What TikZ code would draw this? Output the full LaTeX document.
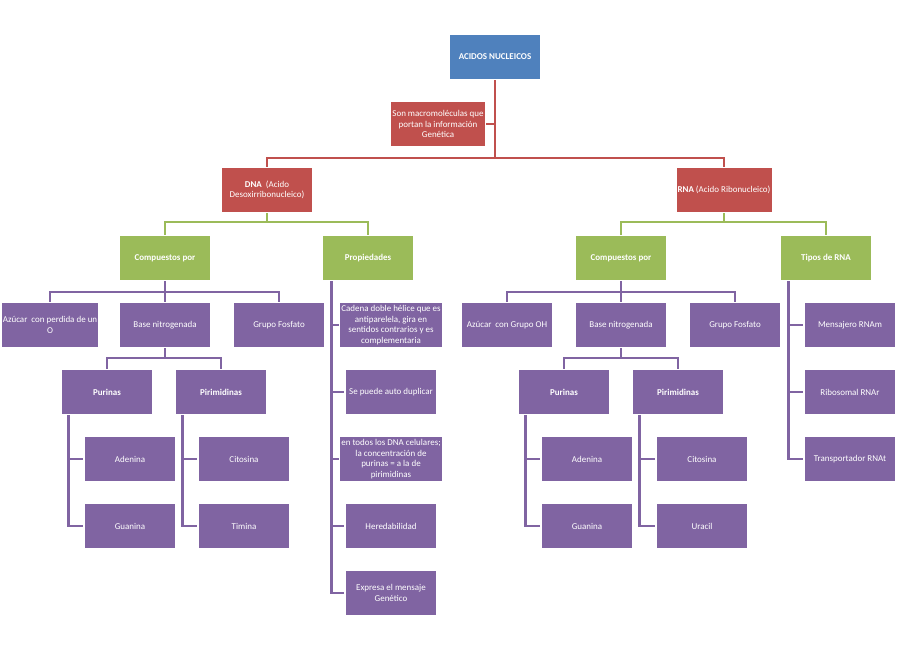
\documentclass[tikz,border=0pt]{standalone}
\usepackage{fontspec}
\setmainfont{Carlito}
\definecolor{blue1}{RGB}{79,129,189}
\definecolor{red1}{RGB}{192,80,77}
\definecolor{green1}{RGB}{155,187,89}
\definecolor{purple1}{RGB}{128,100,162}
\usetikzlibrary{positioning}

\begin{document}
\begin{tikzpicture}[x=0.02cm, y=-0.02cm,
  box/.style={draw=white, line width=0.8pt, text=white, minimum width=1.84cm, minimum height=0.9cm, align=center, inner sep=1pt, font=\fontsize{5.1}{6}\selectfont},
  bluebox/.style={box, fill=blue1, font=\fontsize{5.1}{6}\selectfont\bfseries},
  redbox/.style={box, fill=red1},
  greenbox/.style={box, fill=green1, font=\fontsize{5.1}{6}\selectfont\bfseries},
  purplebox/.style={box, fill=purple1},
  headbox/.style={purplebox, font=\fontsize{5.1}{6}\selectfont\bfseries},
  redline/.style={draw=red1, line width=1.4pt},
  greenline/.style={draw=green1, line width=1.4pt},
  purpleline/.style={draw=purple1, line width=1.4pt}]

  \useasboundingbox[fill=white] (0,0) rectangle (900,660);

  % top level
  \node[bluebox] (acidos) at (495,57) {ACIDOS NUCLEICOS};
  \node[redbox] (macro) at (438,124) {Son macromoléculas que\\portan la información\\Genética};
  \node[redbox] (dna) at (267,190) {\textbf{DNA}~ (Acido\\Desoxirribonucleico)};
  \node[redbox] (rna) at (724,190) {\textbf{RNA} (Acido Ribonucleico)};

  \coordinate (rbar) at (495,158);
  \draw[redline] (acidos.south) -- (rbar);
  \draw[redline] (macro.east) -- (macro.east -| rbar);
  \draw[redline] (dna.north) |- (rbar) -| (rna.north);

  % DNA branch
  \node[greenbox] (dcomp) at (165,258) {Compuestos por};
  \node[greenbox] (dprop) at (368,258) {Propiedades};
  \coordinate (gdna) at (267,222);
  \draw[greenline] (dna.south) -- (gdna);
  \draw[greenline] (dcomp.north) |- (gdna) -| (dprop.north);

  \node[purplebox] (dazu) at (50,325) {Azúcar~ con perdida de un\\O};
  \node[purplebox] (dbase) at (165,325) {Base nitrogenada};
  \node[purplebox] (dfos) at (279,325) {Grupo Fosfato};
  \coordinate (pd1) at (165,292);
  \draw[purpleline] (dcomp.south) -- (dbase.north);
  \draw[purpleline] (dazu.north) |- (pd1) -| (dfos.north);

  \node[headbox] (dpur) at (107,392) {Purinas};
  \node[headbox] (dpir) at (221,392) {Pirimidinas};
  \coordinate (pd2) at (165,358);
  \draw[purpleline] (dbase.south) -- (pd2);
  \draw[purpleline] (dpur.north) |- (pd2) -| (dpir.north);

  \node[purplebox] (dade) at (130,459) {Adenina};
  \node[purplebox] (dgua) at (130,526) {Guanina};
  \node[purplebox] (dcit) at (244,459) {Citosina};
  \node[purplebox] (dtim) at (244,526) {Timina};
  \foreach \n in {dade,dgua}
    \draw[purpleline] (dpur.south west) ++(8,0) |- (\n.west);
  \foreach \n in {dcit,dtim}
    \draw[purpleline] (dpir.south west) ++(8,0) |- (\n.west);

  % propiedades
  \node[purplebox] (p1) at (391,325) {Cadena doble hélice que es\\antiparelela, gira en\\sentidos contrarios y es\\complementaria};
  \node[purplebox] (p2) at (391,392) {Se puede auto duplicar};
  \node[purplebox] (p3) at (391,459) {en todos los DNA celulares;\\la concentración de\\purinas = a la de\\pirimidinas};
  \node[purplebox] (p4) at (391,526) {Heredabilidad};
  \node[purplebox] (p5) at (391,593) {Expresa el mensaje\\Genético};
  \foreach \n in {p1,p2,p3,p4,p5}
    \draw[purpleline] (dprop.south west) ++(10,0) |- (\n.west);

  % RNA branch
  \node[greenbox] (rcomp) at (621,258) {Compuestos por};
  \node[greenbox] (rtipo) at (826,258) {Tipos de RNA};
  \coordinate (grna) at (724,222);
  \draw[greenline] (rna.south) -- (grna);
  \draw[greenline] (rcomp.north) |- (grna) -| (rtipo.north);

  \node[purplebox] (razu) at (507,325) {Azúcar~ con Grupo OH};
  \node[purplebox] (rbase) at (621,325) {Base nitrogenada};
  \node[purplebox] (rfos) at (735,325) {Grupo Fosfato};
  \coordinate (pr1) at (621,292);
  \draw[purpleline] (rcomp.south) -- (rbase.north);
  \draw[purpleline] (razu.north) |- (pr1) -| (rfos.north);

  \node[headbox] (rpur) at (564,392) {Purinas};
  \node[headbox] (rpir) at (678,392) {Pirimidinas};
  \coordinate (pr2) at (621,358);
  \draw[purpleline] (rbase.south) -- (pr2);
  \draw[purpleline] (rpur.north) |- (pr2) -| (rpir.north);

  \node[purplebox] (rade) at (587,459) {Adenina};
  \node[purplebox] (rgua) at (587,526) {Guanina};
  \node[purplebox] (rcit) at (702,459) {Citosina};
  \node[purplebox] (rura) at (702,526) {Uracil};
  \foreach \n in {rade,rgua}
    \draw[purpleline] (rpur.south west) ++(8,0) |- (\n.west);
  \foreach \n in {rcit,rura}
    \draw[purpleline] (rpir.south west) ++(8,0) |- (\n.west);

  % tipos de RNA
  \node[purplebox] (t1) at (850,325) {Mensajero RNAm};
  \node[purplebox] (t2) at (850,392) {Ribosomal RNAr};
  \node[purplebox] (t3) at (850,459) {Transportador RNAt};
  \foreach \n in {t1,t2,t3}
    \draw[purpleline] (rtipo.south west) ++(9,0) |- (\n.west);
\end{tikzpicture}
\end{document}
